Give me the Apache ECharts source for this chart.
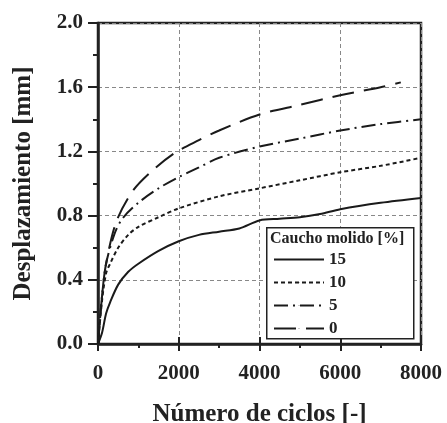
<!DOCTYPE html>
<html>
<head>
<meta charset="utf-8">
<script src="https://cdn.jsdelivr.net/npm/echarts@6/dist/echarts.min.js"></script>
</head>
<body style="margin:0;background:#fff">
<div id="main" style="width:447px;height:423px"></div>
<script>
// ciclos vs desplazamiento
var ciclos15 = [0, 100, 200, 300, 500, 750, 1000, 1500, 2000, 2500, 3000, 3500, 4000, 4500, 5000, 5500, 6000, 7000, 8000];
var despl15 = [0.0, 0.07, 0.19, 0.26, 0.37, 0.45, 0.50, 0.58, 0.64, 0.68, 0.70, 0.72, 0.77, 0.78, 0.79, 0.81, 0.84, 0.88, 0.91];

var ciclos10 = [0, 100, 200, 300, 500, 750, 1000, 1500, 2000, 3000, 4000, 5000, 6000, 7000, 8000];
var despl10 = [0.0, 0.27, 0.44, 0.50, 0.60, 0.68, 0.73, 0.79, 0.845, 0.92, 0.97, 1.02, 1.07, 1.11, 1.16];

var ciclos5 = [0, 100, 200, 400, 600, 1000, 1500, 2000, 2500, 3000, 4000, 5000, 6000, 7000, 8000];
var despl5 = [0.0, 0.30, 0.50, 0.68, 0.78, 0.88, 0.97, 1.04, 1.10, 1.16, 1.23, 1.28, 1.33, 1.37, 1.40];

var ciclos0 = [0, 100, 200, 450, 850, 1300, 1900, 2500, 3000, 4000, 5000, 6000, 7000, 7500];
var despl0 = [0.0, 0.30, 0.50, 0.76, 0.95, 1.07, 1.19, 1.27, 1.33, 1.43, 1.49, 1.55, 1.60, 1.63];

var nombres = ['15', '10', '5', '0'];
var xTicks = [0, 2000, 4000, 6000, 8000];

function pares(xs, ys) {
    var out = [];
    for (var i = 0; i < xs.length; i++) out.push([xs[i], ys[i]]);
    return out;
}

var fuente = 'Liberation Serif';
var chart = echarts.init(document.getElementById('main'), null, { renderer: 'canvas' });

function linea(nombre, datos, tipo) {
    return {
        name: nombre,
        type: 'line',
        smooth: 0.3,
        showSymbol: false,
        symbol: 'none',
        data: datos,
        lineStyle: { color: '#1a1a1a', width: 2, type: tipo },
        itemStyle: { color: '#1a1a1a' }
    };
}

var option = {
    animation: false,
    grid: {
        left: 98, right: 26, top: 23, bottom: 79, outerBoundsMode: 'none',
        show: true, borderColor: '#222', borderWidth: 2.5, backgroundColor: '#fff'
    },
    xAxis: [{
        type: 'value', min: 0, max: 8000, interval: 2000,
        name: 'Número de ciclos [-]', nameLocation: 'middle', nameGap: 58,
        nameTextStyle: { fontFamily: fuente, fontWeight: 'bold', fontSize: 25, color: '#222' },
        axisLine: { show: true, onZero: false, lineStyle: { color: '#222', width: 2.5 } },
        axisTick: { show: true, length: 7, lineStyle: { color: '#222', width: 2 } },
        minorTick: { show: true, splitNumber: 2, length: 4, lineStyle: { color: '#222', width: 2 } },
        axisLabel: {
            fontFamily: fuente, fontWeight: 'bold', fontSize: 21, color: '#222', margin: 19,
            formatter: function (v) { return xTicks.indexOf(v) >= 0 ? String(v) : ''; }
        },
        splitLine: { show: true, lineStyle: { color: '#888', type: [4, 3], width: 1 } }
    }, {
        type: 'value', min: 0, max: 8000, interval: 2000, position: 'bottom',
        axisLine: { show: false },
        axisTick: { show: true, inside: true, length: 7, lineStyle: { color: '#222', width: 2 } },
        axisLabel: { show: false }, splitLine: { show: false }
    }],
    yAxis: [{
        type: 'value', min: 0, max: 2.0, interval: 0.4,
        name: 'Desplazamiento [mm]', nameLocation: 'middle', nameGap: 62,
        nameTextStyle: { fontFamily: fuente, fontWeight: 'bold', fontSize: 25, color: '#222' },
        axisLine: { show: true, lineStyle: { color: '#222', width: 2.5 } },
        axisTick: { show: true, length: 10, lineStyle: { color: '#222', width: 2 } },
        minorTick: { show: true, splitNumber: 2, length: 5, lineStyle: { color: '#222', width: 2 } },
        axisLabel: {
            fontFamily: fuente, fontWeight: 'bold', fontSize: 21, color: '#222', margin: 15,
            formatter: function (v) { return v.toFixed(1); }
        },
        splitLine: { show: true, lineStyle: { color: '#888', type: [4, 3], width: 1 } }
    }, {
        type: 'value', min: 0, max: 2.0, interval: 0.4, position: 'right',
        axisLine: { show: false },
        axisTick: { show: true, inside: true, length: 4, lineStyle: { color: '#222', width: 1.5 } },
        axisLabel: { show: false }, splitLine: { show: false }
    }],
    legend: {
        orient: 'vertical', left: 268, top: 246, z: 20,
        itemWidth: 50, itemHeight: 1, itemGap: 6,
        data: nombres,
        textStyle: { fontFamily: fuente, fontWeight: 'bold', fontSize: 17, color: '#222' }
    },
    graphic: [
        { type: 'rect', left: 266, top: 227, shape: { width: 147, height: 111 }, style: { fill: '#fff', stroke: '#222', lineWidth: 1.5 }, z: 5 },
        { type: 'text', left: 270, top: 231, style: { text: 'Caucho molido [%]', font: 'bold 16px "Liberation Serif"', fill: '#222' }, z: 6 }
    ],
    series: [
        linea(nombres[0], pares(ciclos15, despl15), 'solid'),
        linea(nombres[1], pares(ciclos10, despl10), [4, 3]),
        linea(nombres[2], pares(ciclos5, despl5), [14, 5, 2, 5]),
        linea(nombres[3], pares(ciclos0, despl0), [22, 10])
    ]
};
chart.setOption(option);
</script>
</body>
</html>
